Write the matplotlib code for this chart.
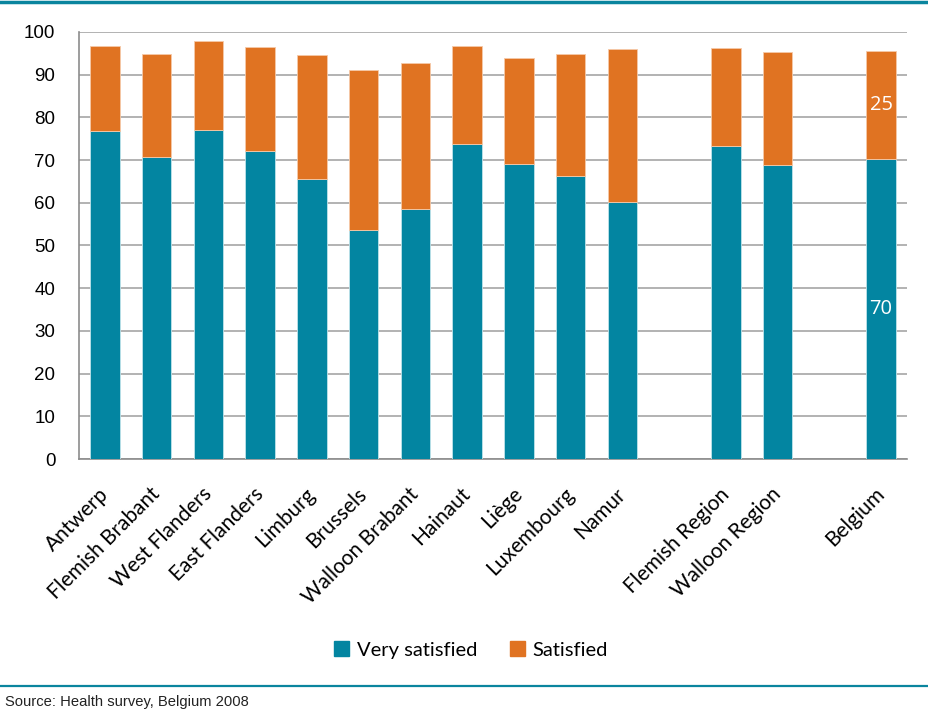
import matplotlib
matplotlib.use("Agg")
import matplotlib.pyplot as plt
import matplotlib.transforms as mtransforms
from matplotlib.lines import Line2D
from matplotlib.patches import Patch

categories = ["Antwerp", "Flemish Brabant", "West Flanders", "East Flanders", "Limburg",
              "Brussels", "Walloon Brabant", "Hainaut", "Liège", "Luxembourg", "Namur",
              "Flemish Region", "Walloon Region", "Belgium"]
positions = [0, 1, 2, 3, 4, 5, 6, 7, 8, 9, 10, 12, 13, 15]
very_satisfied = [76.7, 70.8, 77.0, 72.1, 65.6, 53.6, 58.6, 73.8, 69.2, 66.3, 60.3, 73.2, 68.9, 70.2]
satisfied = [20.0, 24.0, 20.9, 24.5, 29.1, 37.5, 34.1, 22.9, 24.7, 28.5, 35.7, 23.1, 26.3, 25.3]
yticks = [0, 10, 20, 30, 40, 50, 60, 70, 80, 90, 100]

BLUE = "#0385A1"
ORANGE = "#E07322"
TEAL = "#0A859E"
GRID = "#A6A6A6"

fig = plt.figure(figsize=(9.29, 7.13), dpi=100)
ax = fig.add_axes([79/929, 1 - 459/713, (907-79)/929, (459-32)/713])

w = 0.57
ax.bar(positions, very_satisfied, width=w, color=BLUE, edgecolor="#BFE3EA", linewidth=0.6, zorder=3)
ax.bar(positions, satisfied, bottom=very_satisfied, width=w, color=ORANGE,
       edgecolor="#F5C9A8", linewidth=0.6, zorder=3)

# data labels on Belgium
i = len(categories) - 1
ax.text(positions[i], very_satisfied[i] / 2, f"{very_satisfied[i]:.0f}", color="white",
        ha="center", va="center", fontsize=14.5, family="Open Sans", zorder=4)
ax.text(positions[i], very_satisfied[i] + satisfied[i] / 2, f"{satisfied[i]:.0f}", color="white",
        ha="center", va="center", fontsize=14.5, family="Open Sans", zorder=4)

ax.set_xlim(-0.5, 15.5)
ax.set_ylim(0, 100)
ax.set_yticks(yticks)
ax.set_yticklabels([str(t) for t in yticks], fontsize=13.5, family="Liberation Sans")
ax.yaxis.grid(True, color=GRID, linewidth=1.2, zorder=0)
ax.set_axisbelow(True)
ax.tick_params(axis="y", length=0, pad=17)
ax.tick_params(axis="x", length=0, pad=0)

ax.set_xticks(positions)
ax.set_xticklabels(categories, rotation=45, ha="right", rotation_mode="anchor",
                   fontsize=15, family="Lato")
offset = mtransforms.ScaledTranslation(-0.07, -0.25, fig.dpi_scale_trans)
for lab in ax.get_xticklabels():
    lab.set_transform(lab.get_transform() + offset)

for s in ["top", "right"]:
    ax.spines[s].set_visible(False)
for s in ["left", "bottom"]:
    ax.spines[s].set_color("#8C8C8C")
    ax.spines[s].set_linewidth(1.2)

handles = [Patch(color=BLUE, label="Very satisfied"), Patch(color=ORANGE, label="Satisfied")]
fig.legend(handles=handles, loc="center", bbox_to_anchor=(471/929, 1 - 650/713), ncol=2,
           frameon=False, prop={"family": "Lato", "size": 14.5}, handlelength=0.75,
           handleheight=0.75, handletextpad=0.4, columnspacing=1.6)

fig.add_artist(Line2D([0, 1], [1 - 1.5/713, 1 - 1.5/713], color=TEAL, linewidth=2.5, transform=fig.transFigure))
fig.add_artist(Line2D([0, 1], [1 - 686/713, 1 - 686/713], color=TEAL, linewidth=1.6, transform=fig.transFigure))
fig.text(5/929, 1 - 702/713, "Source: Health survey, Belgium 2008", fontsize=10.6,
         family="Liberation Sans", va="center", ha="left", color="#222222")

fig.savefig("out.png", dpi=100)
